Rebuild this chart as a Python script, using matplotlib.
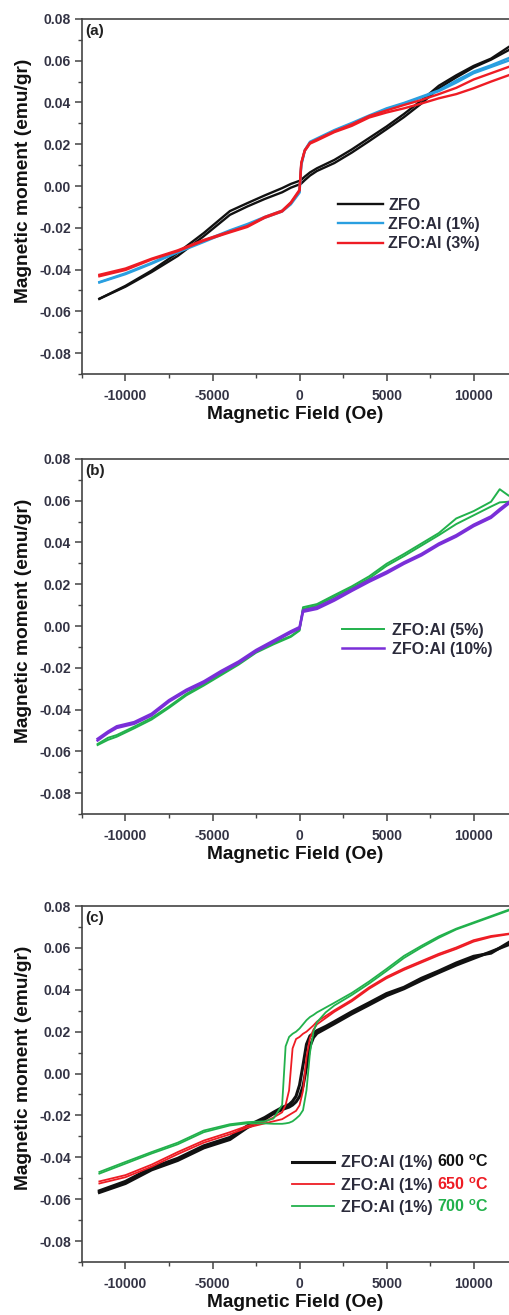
import matplotlib
matplotlib.use('Agg')
import matplotlib.pyplot as plt
from matplotlib.ticker import MultipleLocator

plt.rcParams['font.family'] = ['Liberation Sans', 'DejaVu Sans']
plt.rcParams['font.weight'] = 'bold'
plt.rcParams['axes.unicode_minus'] = False
plt.rcParams['mathtext.fontset'] = 'custom'
plt.rcParams['mathtext.bf'] = 'Liberation Sans:bold'
plt.rcParams['mathtext.rm'] = 'Liberation Sans'

# ---- panel (a): ZFO, ZFO:Al (1%), ZFO:Al (3%) ----
H_a = [-11500, -10000, -8500, -7000, -5500, -4000, -3000, -2000, -1000, -500,
       0, 100, 300, 600, 1000, 2000, 3000, 4000, 5000, 6000, 7000, 8000,
       9000, 10000, 11000, 12000]
zfo_up = [-0.0540, -0.0478, -0.0405, -0.0320, -0.0225, -0.0120, -0.0082, -0.0045,
          -0.0010, 0.0010, 0.0025, 0.0030, 0.0045, 0.0065, 0.0085, 0.0125, 0.0175,
          0.0230, 0.0285, 0.0345, 0.0410, 0.0480, 0.0530, 0.0575, 0.0610, 0.0665]
zfo_down = [-0.0540, -0.0482, -0.0412, -0.0335, -0.0240, -0.0138, -0.0098, -0.0062,
            -0.0030, -0.0008, 0.0008, 0.0012, 0.0028, 0.0050, 0.0072, 0.0110, 0.0160,
            0.0215, 0.0272, 0.0330, 0.0395, 0.0468, 0.0520, 0.0568, 0.0605, 0.0650]
al1_up = [-0.0460, -0.0418, -0.0368, -0.0312, -0.0262, -0.0212, -0.0182, -0.0148,
          -0.0118, -0.0082, -0.0028, 0.0105, 0.0172, 0.0212, 0.0228, 0.0268, 0.0302,
          0.0338, 0.0372, 0.0398, 0.0428, 0.0458, 0.0505, 0.0548, 0.0578, 0.0612]
al1_down = [-0.0462, -0.0422, -0.0372, -0.0318, -0.0268, -0.0216, -0.0188, -0.0152,
            -0.0122, -0.0088, -0.0032, 0.0098, 0.0168, 0.0208, 0.0224, 0.0264, 0.0298,
            0.0334, 0.0368, 0.0394, 0.0424, 0.0454, 0.0495, 0.0540, 0.0570, 0.0600]
al3_up = [-0.0425, -0.0395, -0.0348, -0.0308, -0.0258, -0.0218, -0.0192, -0.0148,
          -0.0118, -0.0078, -0.0018, 0.0112, 0.0172, 0.0207, 0.0223, 0.0262, 0.0295,
          0.0335, 0.0362, 0.0388, 0.0412, 0.0440, 0.0470, 0.0510, 0.0540, 0.0570]
al3_down = [-0.0432, -0.0402, -0.0352, -0.0312, -0.0262, -0.0222, -0.0196, -0.0152,
            -0.0122, -0.0082, -0.0022, 0.0108, 0.0168, 0.0203, 0.0218, 0.0258, 0.0288,
            0.0328, 0.0352, 0.0372, 0.0395, 0.0420, 0.0440, 0.0468, 0.0500, 0.0530]

# ---- panel (b): ZFO:Al (5%), ZFO:Al (10%) ----
H_b = [-11600, -11000, -10500, -9500, -8500, -7500, -6500, -5500, -4500, -3500,
       -2500, -1500, -500, 0, 200, 1000, 2000, 3000, 4000, 5000, 6000, 7000,
       8000, 9000, 10000, 11000, 11500, 12000]
al5_up = [-0.0565, -0.0535, -0.0522, -0.0482, -0.0440, -0.0385, -0.0325, -0.0278,
          -0.0228, -0.0178, -0.0122, -0.0082, -0.0048, -0.0018, 0.0090, 0.0105, 0.0148,
          0.0190, 0.0238, 0.0298, 0.0345, 0.0395, 0.0445, 0.0515, 0.0550, 0.0595,
          0.0655, 0.0625]
al5_down = [-0.0570, -0.0545, -0.0530, -0.0490, -0.0448, -0.0392, -0.0332, -0.0285,
            -0.0235, -0.0185, -0.0128, -0.0088, -0.0052, -0.0022, 0.0082, 0.0098, 0.0140,
            0.0182, 0.0228, 0.0288, 0.0335, 0.0385, 0.0435, 0.0488, 0.0530, 0.0572,
            0.0592, 0.0595]
al10_up = [-0.0540, -0.0505, -0.0480, -0.0460, -0.0420, -0.0355, -0.0305, -0.0265,
           -0.0215, -0.0170, -0.0115, -0.0070, -0.0025, -0.0005, 0.0075, 0.0090, 0.0130,
           0.0175, 0.0220, 0.0260, 0.0305, 0.0345, 0.0395, 0.0435, 0.0485, 0.0525,
           0.0560, 0.0592]
al10_down = [-0.0548, -0.0512, -0.0488, -0.0468, -0.0428, -0.0362, -0.0312, -0.0272,
             -0.0222, -0.0177, -0.0122, -0.0077, -0.0032, -0.0012, 0.0068, 0.0082, 0.0122,
             0.0168, 0.0212, 0.0252, 0.0298, 0.0338, 0.0388, 0.0428, 0.0478, 0.0518,
             0.0552, 0.0585]

# ---- panel (c): ZFO:Al (1%) annealed at 600 / 650 / 700 C ----
H_c = [-11500, -10000, -8500, -7000, -5500, -4000, -3000, -2000, -1500, -1000,
       -800, -600, -400, -200, 0, 200, 400, 600, 800, 1000, 1500, 2000, 3000,
       4000, 5000, 6000, 7000, 8000, 9000, 10000, 11000, 12000]
t600_up = [-0.0560, -0.0515, -0.0450, -0.0405, -0.0345, -0.0305, -0.0250, -0.0210,
           -0.0185, -0.0162, -0.0155, -0.0148, -0.0132, -0.0108, -0.0055, 0.0040,
           0.0140, 0.0180, 0.0192, 0.0205, 0.0225, 0.0248, 0.0295, 0.0338, 0.0382,
           0.0412, 0.0455, 0.0490, 0.0528, 0.0560, 0.0575, 0.0625]
t600_down = [-0.0568, -0.0525, -0.0460, -0.0415, -0.0355, -0.0315, -0.0258, -0.0218,
             -0.0192, -0.0172, -0.0166, -0.0160, -0.0150, -0.0135, -0.0110, -0.0060,
             0.0030, 0.0130, 0.0172, 0.0192, 0.0215, 0.0238, 0.0285, 0.0328, 0.0372,
             0.0405, 0.0445, 0.0482, 0.0518, 0.0550, 0.0582, 0.0615]
t650_up = [-0.0515, -0.0485, -0.0435, -0.0375, -0.0320, -0.0280, -0.0250, -0.0230,
           -0.0210, -0.0185, -0.0150, -0.0080, 0.0120, 0.0165, 0.0175, 0.0190, 0.0200,
           0.0215, 0.0230, 0.0248, 0.0275, 0.0302, 0.0352, 0.0412, 0.0462, 0.0502,
           0.0537, 0.0572, 0.0602, 0.0637, 0.0657, 0.0668]
t650_down = [-0.0525, -0.0495, -0.0445, -0.0385, -0.0330, -0.0290, -0.0258, -0.0238,
             -0.0228, -0.0218, -0.0208, -0.0198, -0.0188, -0.0178, -0.0152, -0.0082,
             0.0080, 0.0170, 0.0210, 0.0235, 0.0265, 0.0295, 0.0345, 0.0405, 0.0455,
             0.0495, 0.0530, 0.0565, 0.0595, 0.0630, 0.0652, 0.0665]
t700_up = [-0.0470, -0.0422, -0.0375, -0.0330, -0.0272, -0.0242, -0.0232, -0.0228,
           -0.0215, -0.0150, 0.0130, 0.0175, 0.0190, 0.0200, 0.0215, 0.0235, 0.0255,
           0.0270, 0.0280, 0.0292, 0.0315, 0.0338, 0.0385, 0.0440, 0.0500, 0.0562,
           0.0610, 0.0655, 0.0692, 0.0722, 0.0752, 0.0782]
t700_down = [-0.0478, -0.0430, -0.0382, -0.0338, -0.0280, -0.0248, -0.0238, -0.0238,
             -0.0240, -0.0240, -0.0238, -0.0235, -0.0228, -0.0215, -0.0200, -0.0175,
             -0.0080, 0.0100, 0.0200, 0.0245, 0.0292, 0.0325, 0.0375, 0.0430, 0.0490,
             0.0552, 0.0602, 0.0648, 0.0688, 0.0718, 0.0748, 0.0778]
temps_c = ['600', '650', '700']

c_black = '#111111'
c_blue = '#2a9fe0'
c_red = '#ee1c24'
c_green = '#22b14c'
c_purple = '#7a2fd8'
txt_col = '#2b2b3b'

fig = plt.figure(figsize=(5.09, 13.15), dpi=100)
ax_a = fig.add_axes([0.161, 0.7156, 0.8389, 0.2700])
ax_b = fig.add_axes([0.161, 0.3810, 0.8389, 0.2700])
ax_c = fig.add_axes([0.161, 0.0403, 0.8389, 0.2707])


def style_axes(ax, tag):
    ax.set_xlim(-12500, 12030)
    ax.set_ylim(-0.09, 0.08)
    ax.xaxis.set_major_locator(MultipleLocator(5000))
    ax.xaxis.set_minor_locator(MultipleLocator(2500))
    ax.yaxis.set_major_locator(MultipleLocator(0.02))
    ax.yaxis.set_minor_locator(MultipleLocator(0.01))
    ax.yaxis.set_major_formatter(lambda v, p: '%.2f' % v)
    ax.xaxis.set_major_formatter(lambda v, p: '%d' % v)
    ax.spines['right'].set_visible(False)
    for s in ['left', 'bottom', 'top']:
        ax.spines[s].set_color('#444444')
        ax.spines[s].set_linewidth(1.2)
    ax.tick_params(which='major', direction='out', length=5, width=1.1,
                   color='#444444', labelsize=10, labelcolor='#333344', pad=3)
    ax.tick_params(axis='x', which='major', pad=6)
    ax.tick_params(which='minor', direction='out', length=3, width=1.0, color='#444444')
    ax.set_xlabel('Magnetic Field (Oe)', fontsize=13.8, fontweight='bold',
                  color='#111111', labelpad=2)
    ax.set_ylabel('Magnetic moment (emu/gr)', fontsize=13.8, fontweight='bold',
                  color='#111111')
    ax.yaxis.set_label_coords(-0.117, 0.545)
    ax.text(0.008, 0.985, tag, transform=ax.transAxes, ha='left', va='top',
            fontsize=11, fontweight='bold', color='#222222')


# (a)
ax_a.plot(H_a, zfo_up, color=c_black, lw=1.7, label='ZFO')
ax_a.plot(H_a, zfo_down, color=c_black, lw=1.7)
ax_a.plot(H_a, al1_up, color=c_blue, lw=1.7, label='ZFO:Al (1%)')
ax_a.plot(H_a, al1_down, color=c_blue, lw=1.7)
ax_a.plot(H_a, al3_up, color=c_red, lw=1.7, label='ZFO:Al (3%)')
ax_a.plot(H_a, al3_down, color=c_red, lw=1.7)
style_axes(ax_a, '(a)')
ax_a.legend(loc='upper left', bbox_to_anchor=(0.60, 0.497), frameon=False,
            fontsize=11.5, handlelength=2.8, handletextpad=0.35, labelspacing=0.28,
            borderpad=0, borderaxespad=0, labelcolor=txt_col)

# (b)
ax_b.plot(H_b, al5_up, color=c_green, lw=1.4, label='ZFO:Al (5%)')
ax_b.plot(H_b, al5_down, color=c_green, lw=1.4)
ax_b.plot(H_b, al10_up, color=c_purple, lw=1.8, label='ZFO:Al (10%)')
ax_b.plot(H_b, al10_down, color=c_purple, lw=1.8)
style_axes(ax_b, '(b)')
ax_b.legend(loc='upper left', bbox_to_anchor=(0.609, 0.539), frameon=False,
            fontsize=11.5, handlelength=2.6, handletextpad=0.5, labelspacing=0.25,
            borderpad=0, borderaxespad=0, labelcolor=txt_col)

# (c)
ax_c.plot(H_c, t600_up, color=c_black, lw=2.2, label='ZFO:Al (1%)')
ax_c.plot(H_c, t600_down, color=c_black, lw=2.2)
ax_c.plot(H_c, t650_up, color=c_red, lw=1.3, label='ZFO:Al (1%)')
ax_c.plot(H_c, t650_down, color=c_red, lw=1.3)
ax_c.plot(H_c, t700_up, color=c_green, lw=1.3, label='ZFO:Al (1%)')
ax_c.plot(H_c, t700_down, color=c_green, lw=1.3)
style_axes(ax_c, '(c)')
leg_c = ax_c.legend(loc='upper left', bbox_to_anchor=(0.492, 0.300), frameon=False,
                    fontsize=11.5, handlelength=2.6, handletextpad=0.45, labelspacing=0.46,
                    borderpad=0, borderaxespad=0, labelcolor=txt_col)

# temperatures after each legend label, coloured like the curve
fig.canvas.draw()
renderer = fig.canvas.get_renderer()
for lt, temp, col in zip(leg_c.get_texts(), temps_c, [c_black, c_red, c_green]):
    bb = lt.get_window_extent(renderer)
    x, y = ax_c.transAxes.inverted().transform((bb.x1 + 5, bb.y0))
    ax_c.text(x, y, temp + r' $^{\mathbf{o}}$C', transform=ax_c.transAxes,
              ha='left', va='bottom', fontsize=11.5, fontweight='bold', color=col)

fig.savefig('out.png', dpi=100)
